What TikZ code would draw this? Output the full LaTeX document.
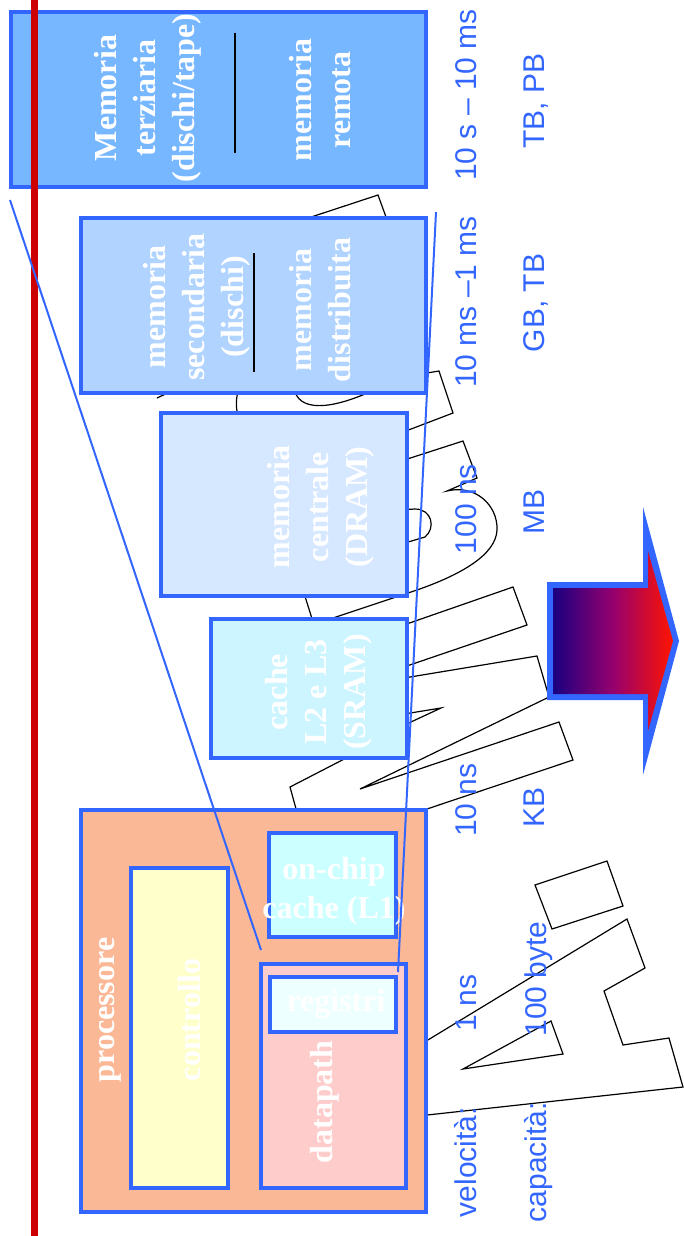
\documentclass[tikz,border=0pt]{standalone}
\usepackage{fontspec}
\setmainfont{Liberation Serif}
\newfontfamily\labelfont{Liberation Sans}
\usepackage{xcolor}
\usepackage{tikz}
\usetikzlibrary{fit, calc}

\definecolor{hierblue}{RGB}{51,102,255}
\definecolor{barred}{RGB}{204,0,0}
\definecolor{terzfill}{RGB}{119,183,255}
\definecolor{secfill}{RGB}{176,212,255}
\definecolor{ramfill}{RGB}{214,232,255}
\definecolor{sramfill}{RGB}{204,245,255}
\definecolor{cpufill}{RGB}{251,184,150}
\definecolor{ctrlfill}{RGB}{255,255,204}
\definecolor{dpfill}{RGB}{255,204,204}
\definecolor{regfill}{RGB}{238,255,255}
\definecolor{lonefill}{RGB}{204,255,255}
\definecolor{arrowL}{RGB}{26,0,128}
\definecolor{arrowM}{RGB}{150,0,110}
\definecolor{arrowR}{RGB}{255,20,0}

\begin{document}
\begin{tikzpicture}[
  x=0.5pt, y=-0.5pt,
  box/.style={draw=hierblue, line width=1.75pt, inner sep=0pt},
  boxtext/.style={text=white, font=\fontsize{16}{19.5}\selectfont\bfseries, align=center, inner sep=0pt},
  lbl/.style={text=hierblue, font=\labelfont\fontsize{15}{18}\selectfont, rotate=90, anchor=base, inner sep=0pt},
  outline/.style={black, line width=0.6pt, line join=miter},
  guide/.style={hierblue, line width=1pt},
  divider/.style={black, line width=0.7pt}
]
\useasboundingbox (0,0) rectangle (684,1236);

\draw[outline] (290,224) -- (378,195) -- (390,228);
\draw[outline] (157,398) -- (172,391);
\draw[outline] (294,388) .. controls (298,412) and (330,410) .. (372,391);
\draw[outline] (239,388) .. controls (235,400) and (236,410) .. (239,420);
\draw[outline] (415,375) -- (439,371) -- (453,413) -- (398,434);
\draw[outline] (398,462) -- (463,441) -- (477,478) -- (447,491)
  .. controls (475,484) and (498,505) .. (497,530)
  .. controls (496,555) and (460,575) .. (417,590) -- (330,619);
\draw[outline] (398,510) -- (415,509) .. controls (432,509) and (436,528) .. (425,537) -- (398,545);
\draw[outline] (303,590) -- (314,625);
\draw[outline] (398,627) -- (513,587) -- (527,625) -- (398,669);
\draw[outline] (398,679) -- (537,656) -- (549,697) -- (360,789) -- (559,722) -- (573,760) -- (415,813);
\draw[outline] (398,715) -- (441,708) -- (398,728);
\draw[outline] (352,755) -- (290,787) -- (298,816);
\draw[outline] (535,885) -- (607,861) -- (623,906) -- (552,929) -- cycle;
\draw[outline] (418,1046) -- (627,919) -- (645,968) -- (604,991) -- (623,1045) -- (669,1038) -- (683,1087) -- (418,1116);
\draw[outline] (463,1069) -- (551,1021) -- (563,1054) -- cycle;

\node[box, fill=terzfill, fit={(11,12) (426,187)}] (terz) {};
\node[box, fill=secfill, fit={(81,218) (426,393)}] (sec) {};
\node[box, fill=ramfill, fit={(161,413) (407,596)}] (ram) {};
\node[box, fill=sramfill, fit={(211,619) (407,758)}] (sram) {};
\node[box, fill=cpufill, fit={(81,810) (426,1212)}] (cpu) {};
\node[box, fill=ctrlfill, fit={(131,868) (228,1188)}] (ctrl) {};
\node[box, fill=dpfill, fit={(261,964) (406,1188)}] (dp) {};
\node[box, fill=regfill, fit={(270,977) (396,1032)}] (reg) {};
\node[box, fill=lonefill, fit={(269,833) (396,937)}] (lone) {};

\node[boxtext, rotate=90] (terzA) at (148,98) {Memoria\\terziaria\\(dischi/tape)};
\node[boxtext, rotate=90] (terzB) at (320,100) {memoria\\remota};
\draw[divider] (235,33) -- (235,153);
\node[boxtext, rotate=90] (secA) at (197,307) {memoria\\secondaria\\(dischi)};
\node[boxtext, rotate=90] (secB) at (320,310) {memoria\\distribuita};
\draw[divider] (254,253) -- (254,372);
\node[boxtext, rotate=90] (ramtxt) at (321,507) {memoria\\centrale\\(DRAM)};
\node[boxtext, rotate=90] (sramtxt) at (319,692) {cache\\L2 e L3\\(SRAM)};
\node[boxtext, rotate=90] (cputxt) at (110,1010) {processore};
\node[boxtext, rotate=90] (ctrltxt) at (190,1020) {controllo};
\node[boxtext, rotate=90] (dptxt) at (325,1102) {datapath};
\node[boxtext] (regtxt) at (336,1004) {registri};
\node[boxtext] (lonetxt) at (334,891) {on-chip\\cache (L1)};

\fill[barred] (31,0) rectangle (38,1236);

\coordinate (fanLtop) at (10,200);
\coordinate (fanLbot) at (261,950);
\coordinate (fanRtop) at (436,212);
\coordinate (fanRbot) at (398,972);
\draw[guide] (fanLtop) -- (fanLbot);
\draw[guide] (fanRtop) -- (fanRbot);

\fill[hierblue] (547,582) -- (643,582) -- (643,507) -- (679,641) -- (643,775) -- (643,700) -- (547,700) -- cycle;
\shade[left color=arrowL, right color=arrowR, middle color=arrowM] (553,588) -- (648,588) -- (648,551) -- (673,641) -- (648,731) -- (648,694) -- (553,694) -- cycle;

\node[lbl] (spd1) at (476,95) {10 s – 10 ms};
\node[lbl] (cap1) at (544,101) {TB, PB};
\node[lbl] (spd2) at (476,302) {10 ms –1 ms};
\node[lbl] (cap2) at (544,303) {GB, TB};
\node[lbl] (spd3) at (476,509) {100 ns};
\node[lbl] (cap3) at (544,512) {MB};
\node[lbl] (spd4) at (476,800) {10 ns};
\node[lbl] (cap4) at (544,807) {KB};
\node[lbl] (spd5) at (476,1003) {1 ns};
\node[lbl] (cap5) at (546,979) {100 byte};
\node[lbl] (spdlbl) at (476,1162) {velocità:};
\node[lbl] (caplbl) at (546,1162) {capacità:};
\end{tikzpicture}
\end{document}
